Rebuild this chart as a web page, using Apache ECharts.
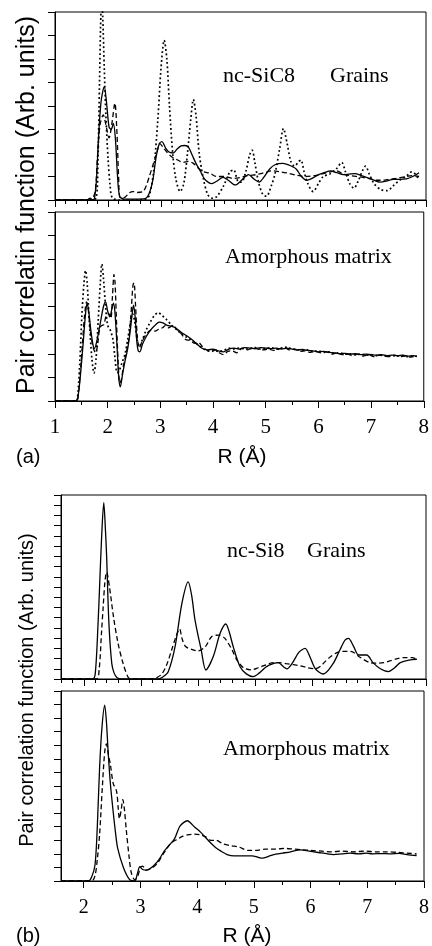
<!DOCTYPE html>
<html>
<head>
<meta charset="utf-8">
<title>Pair correlation functions: nc-SiC8 and nc-Si8</title>
<script src="https://cdn.jsdelivr.net/npm/echarts@6/dist/echarts.min.js"></script>
<style>
  html, body { margin: 0; padding: 0; background: #fff; }
  #chart { width: 432px; height: 946px; }
</style>
</head>
<body>
<div id="chart"></div>
<script>
// Integer tick labels and tick positions of the R axes (Å)
const rLabelsA = [1, 2, 3, 4, 5, 6, 7, 8];
const rLabelsB = [2, 3, 4, 5, 6, 7, 8];
const rHalfTicksB = [2.5, 3.5, 4.5, 5.5, 6.5, 7.5];

// (a) nc-SiC8, grains: [R, g(R)]
const aGrainSolid = [[1.0,0],[1.5,0],[1.62,0.01],[1.66,0.04],[1.7,0.01],[1.74,0.02],[1.78,0.4],[1.82,1.3],[1.87,2.1],[1.93,2.41],[1.97,2.1],[2.02,1.55],[2.06,1.5],[2.1,1.63],[2.14,1.3],[2.18,0.5],[2.22,0.08],[2.3,0.02],[2.5,0.02],[2.7,0.03],[2.78,0.15],[2.85,0.45],[2.91,0.93],[2.97,1.2],[3.02,1.24],[3.08,1.12],[3.15,1.02],[3.23,1.0],[3.3,1.08],[3.38,1.15],[3.45,1.16],[3.52,1.12],[3.59,0.95],[3.66,0.78],[3.74,0.62],[3.82,0.45],[3.9,0.37],[3.96,0.35],[4.05,0.4],[4.17,0.48],[4.27,0.42],[4.4,0.32],[4.52,0.42],[4.65,0.54],[4.75,0.45],[4.85,0.38],[4.95,0.5],[5.05,0.66],[5.15,0.75],[5.3,0.78],[5.42,0.74],[5.55,0.66],[5.65,0.5],[5.75,0.42],[5.85,0.46],[5.94,0.52],[6.08,0.58],[6.2,0.62],[6.32,0.58],[6.44,0.54],[6.55,0.55],[6.66,0.56],[6.78,0.52],[6.88,0.48],[7.0,0.43],[7.13,0.38],[7.25,0.4],[7.38,0.44],[7.5,0.44],[7.63,0.45],[7.75,0.5],[7.87,0.58]];
const aGrainDashed = [[1.0,0],[1.6,0],[1.7,0.02],[1.76,0.2],[1.8,0.9],[1.85,1.6],[1.91,1.81],[1.96,1.6],[2.02,1.32],[2.07,1.6],[2.13,2.06],[2.17,1.4],[2.2,0.5],[2.23,0.05],[2.3,0.05],[2.4,0.15],[2.47,0.18],[2.55,0.16],[2.66,0.18],[2.72,0.3],[2.78,0.5],[2.85,0.75],[2.92,1.0],[2.98,1.2],[3.04,1.12],[3.11,1.02],[3.2,0.92],[3.3,0.86],[3.42,0.8],[3.52,0.82],[3.61,0.78],[3.7,0.68],[3.8,0.6],[3.92,0.57],[4.05,0.5],[4.2,0.5],[4.35,0.46],[4.5,0.48],[4.65,0.52],[4.8,0.54],[4.95,0.58],[5.1,0.62],[5.25,0.6],[5.4,0.57],[5.55,0.53],[5.72,0.5],[5.9,0.52],[6.06,0.56],[6.2,0.6],[6.31,0.62],[6.44,0.55],[6.56,0.52],[6.7,0.5],[6.81,0.48],[6.95,0.45],[7.06,0.42],[7.2,0.42],[7.3,0.44],[7.45,0.46],[7.62,0.5],[7.75,0.52],[7.87,0.5]];
const aGrainDotted = [[1.0,0],[1.7,0],[1.78,0.05],[1.81,0.8],[1.84,2.5],[1.86,3.7],[1.88,4.3],[1.9,3.9],[1.93,2.8],[1.96,1.8],[2.0,0.9],[2.04,0.3],[2.08,0.05],[2.2,0],[2.5,0],[2.7,0.01],[2.78,0.1],[2.86,0.6],[2.94,1.7],[3.0,2.8],[3.06,3.4],[3.11,3.0],[3.16,2.0],[3.22,1.0],[3.28,0.45],[3.36,0.18],[3.43,0.35],[3.5,1.0],[3.56,1.7],[3.61,2.14],[3.66,1.8],[3.72,1.0],[3.8,0.45],[3.88,0.12],[3.96,0.04],[4.05,0.07],[4.18,0.3],[4.3,0.6],[4.37,0.64],[4.45,0.4],[4.52,0.38],[4.6,0.6],[4.67,0.95],[4.72,1.06],[4.77,0.8],[4.84,0.38],[4.92,0.12],[4.99,0.08],[5.08,0.3],[5.15,0.55],[5.24,1.1],[5.31,1.52],[5.38,1.2],[5.45,0.82],[5.52,0.72],[5.6,0.82],[5.64,0.85],[5.7,0.6],[5.77,0.35],[5.87,0.18],[5.97,0.35],[6.06,0.5],[6.18,0.55],[6.3,0.65],[6.41,0.8],[6.48,0.6],[6.56,0.35],[6.64,0.25],[6.72,0.4],[6.8,0.62],[6.86,0.72],[6.93,0.55],[7.02,0.35],[7.15,0.22],[7.27,0.2],[7.38,0.3],[7.5,0.42],[7.62,0.5],[7.73,0.6],[7.8,0.55],[7.87,0.42]];

// (a) nc-SiC8, amorphous matrix
const aMatrixSolid = [[1.0,0],[1.4,0],[1.43,0.05],[1.47,0.4],[1.5,0.76],[1.54,1.3],[1.58,1.85],[1.61,2.07],[1.64,1.9],[1.68,1.5],[1.72,1.2],[1.75,1.11],[1.8,1.3],[1.86,1.65],[1.92,2.0],[1.96,2.1],[2.0,1.9],[2.04,1.78],[2.08,1.95],[2.11,2.07],[2.14,1.85],[2.18,1.1],[2.21,0.5],[2.24,0.3],[2.28,0.55],[2.33,0.85],[2.38,1.11],[2.43,1.5],[2.47,1.9],[2.49,2.03],[2.52,1.8],[2.55,1.3],[2.58,1.06],[2.61,1.04],[2.66,1.2],[2.73,1.36],[2.8,1.48],[2.88,1.58],[2.98,1.67],[3.06,1.65],[3.13,1.6],[3.22,1.58],[3.3,1.54],[3.4,1.45],[3.5,1.38],[3.61,1.29],[3.7,1.2],[3.8,1.11],[3.9,1.08],[4.0,1.1],[4.1,1.06],[4.2,1.04],[4.3,1.1],[4.4,1.12],[4.5,1.1],[4.6,1.13],[4.7,1.12],[4.8,1.11],[4.9,1.13],[5.0,1.12],[5.1,1.11],[5.2,1.12],[5.3,1.1],[5.4,1.12],[5.5,1.1],[5.6,1.08],[5.7,1.09],[5.8,1.07],[5.9,1.06],[6.0,1.04],[6.1,1.05],[6.2,1.03],[6.3,1.02],[6.4,1.0],[6.5,1.01],[6.6,0.99],[6.7,1.0],[6.8,0.98],[6.9,0.99],[7.0,0.98],[7.1,0.97],[7.2,0.98],[7.3,0.96],[7.4,0.97],[7.5,0.96],[7.6,0.97],[7.7,0.95],[7.8,0.96],[7.87,0.94]];
const aMatrixDashed = [[1.0,0],[1.41,0],[1.44,0.1],[1.48,0.6],[1.52,1.2],[1.56,1.8],[1.6,2.1],[1.63,1.95],[1.67,1.5],[1.72,1.15],[1.77,1.02],[1.81,1.2],[1.85,1.55],[1.89,1.6],[1.93,1.62],[1.97,1.8],[2.02,1.85],[2.06,1.75],[2.09,2.2],[2.12,2.68],[2.14,2.5],[2.17,1.6],[2.2,0.8],[2.23,0.38],[2.26,0.45],[2.3,0.75],[2.35,1.0],[2.4,1.3],[2.44,1.8],[2.48,2.45],[2.5,2.5],[2.53,2.0],[2.56,1.4],[2.6,1.12],[2.65,1.25],[2.7,1.36],[2.76,1.45],[2.82,1.5],[2.9,1.48],[2.97,1.52],[3.04,1.55],[3.1,1.6],[3.16,1.55],[3.24,1.6],[3.32,1.5],[3.4,1.42],[3.48,1.3],[3.56,1.28],[3.65,1.22],[3.72,1.24],[3.8,1.15],[3.88,1.08],[3.96,1.04],[4.05,1.08],[4.12,1.02],[4.2,0.98],[4.28,1.05],[4.36,1.06],[4.45,1.02],[4.55,1.12],[4.65,1.08],[4.75,1.12],[4.85,1.1],[4.95,1.08],[5.05,1.1],[5.15,1.07],[5.25,1.1],[5.35,1.13],[5.45,1.08],[5.55,1.1],[5.65,1.05],[5.75,1.06],[5.85,1.03],[5.95,1.05],[6.05,1.02],[6.15,1.04],[6.25,0.99],[6.35,1.02],[6.45,0.98],[6.55,0.99],[6.65,0.96],[6.75,0.99],[6.85,0.95],[6.95,0.98],[7.05,0.94],[7.15,0.97],[7.25,0.95],[7.35,0.94],[7.45,0.97],[7.55,0.94],[7.65,0.95],[7.75,0.93],[7.87,0.95]];
const aMatrixDotted = [[1.0,0],[1.4,0],[1.43,0.1],[1.47,0.8],[1.51,1.8],[1.55,2.5],[1.58,2.76],[1.61,2.5],[1.65,1.7],[1.7,0.9],[1.74,0.59],[1.78,0.9],[1.82,1.7],[1.86,2.5],[1.89,2.9],[1.92,2.6],[1.96,2.0],[2.0,1.6],[2.05,1.5],[2.1,1.3],[2.14,0.9],[2.18,0.6],[2.22,0.65],[2.27,0.8],[2.33,1.0],[2.38,1.3],[2.43,1.65],[2.47,1.85],[2.51,1.7],[2.56,1.3],[2.6,1.15],[2.66,1.3],[2.73,1.5],[2.8,1.65],[2.88,1.8],[2.96,1.87],[3.04,1.8],[3.12,1.72],[3.2,1.62],[3.3,1.52],[3.4,1.42],[3.5,1.35],[3.6,1.28],[3.7,1.2],[3.8,1.12],[3.9,1.06],[4.0,1.08],[4.1,1.05],[4.2,1.07],[4.3,1.12],[4.4,1.1],[4.5,1.12],[4.6,1.1],[4.7,1.11],[4.8,1.13],[4.9,1.1],[5.0,1.11],[5.1,1.13],[5.2,1.1],[5.3,1.12],[5.4,1.14],[5.5,1.1],[5.6,1.09],[5.7,1.07],[5.8,1.08],[5.9,1.05],[6.0,1.06],[6.1,1.03],[6.2,1.04],[6.3,1.01],[6.4,1.02],[6.5,0.99],[6.6,1.0],[6.7,0.98],[6.8,0.99],[6.9,0.97],[7.0,0.98],[7.1,0.96],[7.2,0.97],[7.3,0.95],[7.4,0.96],[7.5,0.95],[7.6,0.96],[7.7,0.94],[7.87,0.95]];

// (b) nc-Si8, grains
const bGrainSolid = [[1.6,0],[2.15,0],[2.2,0.5],[2.25,5.45],[2.28,9.5],[2.31,13.6],[2.35,17.25],[2.38,14.5],[2.4,12.0],[2.44,5.45],[2.49,1.53],[2.53,0.6],[2.58,0.15],[2.65,0],[3.3,0],[3.37,0.15],[3.48,0.72],[3.6,3.16],[3.72,7.4],[3.83,9.5],[3.89,8.2],[3.95,5.77],[4.06,2.8],[4.14,0.88],[4.27,2.2],[4.39,4.47],[4.49,5.38],[4.55,4.6],[4.62,3.16],[4.74,1.2],[4.85,0.5],[4.97,0.23],[5.08,0.6],[5.2,1.2],[5.32,1.5],[5.41,1.6],[5.5,1.2],[5.56,1.0],[5.65,1.5],[5.77,2.6],[5.88,3.0],[5.97,2.1],[6.06,1.0],[6.2,0.49],[6.37,1.5],[6.49,2.84],[6.58,3.8],[6.64,3.98],[6.73,3.2],[6.82,2.35],[6.96,2.35],[7.07,1.6],[7.2,1.0],[7.34,0.72],[7.45,1.1],[7.55,1.6],[7.7,1.85],[7.84,1.93]];
const bGrainDashed = [[1.6,0],[2.22,0],[2.27,1.0],[2.31,4.5],[2.34,7.1],[2.37,9.5],[2.4,10.45],[2.45,9.0],[2.52,6.1],[2.6,3.5],[2.69,1.5],[2.78,0.15],[2.85,0],[3.2,0],[3.27,0.1],[3.37,0.5],[3.46,1.5],[3.54,2.84],[3.62,4.2],[3.68,4.9],[3.72,4.0],[3.78,3.2],[3.89,2.9],[4.0,2.75],[4.13,3.16],[4.24,4.14],[4.36,4.3],[4.47,4.0],[4.6,2.84],[4.68,1.9],[4.8,1.1],[4.94,0.9],[5.06,1.1],[5.2,1.4],[5.32,1.6],[5.43,1.6],[5.55,1.5],[5.68,1.4],[5.79,1.3],[5.93,1.1],[6.06,1.0],[6.15,1.25],[6.23,1.7],[6.33,2.2],[6.44,2.58],[6.56,2.7],[6.68,2.7],[6.85,2.1],[7.02,1.6],[7.14,1.55],[7.26,1.6],[7.38,1.8],[7.5,2.0],[7.62,2.1],[7.76,2.1],[7.84,1.9]];

// (b) nc-Si8, amorphous matrix
const bMatrixSolid = [[1.6,0],[2.08,0],[2.14,0.3],[2.2,1.2],[2.24,4.0],[2.28,8.3],[2.32,11.2],[2.37,12.96],[2.4,11.8],[2.43,9.6],[2.47,7.2],[2.52,5.1],[2.56,3.6],[2.6,2.4],[2.7,1.0],[2.81,0.1],[2.9,0],[2.95,0.6],[2.99,1.06],[3.04,0.85],[3.1,0.8],[3.18,0.95],[3.25,1.2],[3.33,1.6],[3.42,2.2],[3.5,2.6],[3.6,3.1],[3.69,4.0],[3.76,4.3],[3.83,4.44],[3.89,4.25],[3.95,4.0],[4.06,3.6],[4.15,3.2],[4.24,2.8],[4.33,2.45],[4.42,2.2],[4.53,1.95],[4.65,1.85],[4.8,1.85],[4.97,1.85],[5.07,1.75],[5.15,1.68],[5.25,1.8],[5.35,1.95],[5.5,2.05],[5.65,2.15],[5.82,2.3],[5.98,2.2],[6.14,2.1],[6.3,2.0],[6.4,1.95],[6.55,2.0],[6.7,2.05],[6.85,2.0],[6.98,2.05],[7.1,2.0],[7.25,2.02],[7.4,2.0],[7.56,2.03],[7.7,1.95],[7.87,1.88]];
const bMatrixDashed = [[1.6,0],[2.14,0],[2.2,0.4],[2.24,1.6],[2.28,3.4],[2.33,7.0],[2.37,9.5],[2.4,10.1],[2.44,9.2],[2.47,8.6],[2.52,7.2],[2.58,6.6],[2.61,5.3],[2.63,4.6],[2.66,5.2],[2.69,6.0],[2.72,5.2],[2.75,3.8],[2.8,1.8],[2.84,0.6],[2.9,0.1],[2.95,0.3],[3.0,1.0],[3.04,1.1],[3.1,0.8],[3.2,0.95],[3.3,1.3],[3.42,2.1],[3.54,2.8],[3.66,3.1],[3.75,3.3],[3.83,3.4],[3.95,3.45],[4.06,3.4],[4.15,3.25],[4.24,3.0],[4.33,3.0],[4.45,2.75],[4.6,2.6],[4.74,2.5],[4.9,2.25],[5.03,2.25],[5.2,2.35],[5.38,2.35],[5.55,2.4],[5.7,2.35],[5.85,2.3],[6.0,2.25],[6.2,2.2],[6.37,2.15],[6.55,2.2],[6.75,2.15],[6.96,2.2],[7.15,2.15],[7.35,2.15],[7.56,2.1],[7.7,2.05],[7.87,2.0]];

const SANS = '"Liberation Sans", Arial, sans-serif';
const SERIF = '"Liberation Serif", "Times New Roman", serif';

// panel frames in pixels: [left, top, width, height]
const frames = [
  [55, 12, 371, 188],
  [55, 212, 371, 189],
  [61, 495, 365, 184],
  [61, 691, 365, 190]
];

const grids = frames.map(f => ({
  left: f[0], top: f[1], width: f[2], height: f[3],
  show: true, borderColor: '#000', borderWidth: 1, backgroundColor: 'transparent'
}));

function minorAxis(gi, min, interval, custom) {
  const ax = {
    type: 'value', gridIndex: gi, position: 'bottom', min: min, max: 8,
    axisLine: { show: true, onZero: false, lineStyle: { color: '#000', width: 1 } },
    axisTick: { show: true, inside: false, length: 4, lineStyle: { color: '#000', width: 1 } },
    axisLabel: { show: false }, splitLine: { show: false }
  };
  if (custom) ax.axisTick.customValues = custom; else ax.interval = interval;
  return ax;
}
function majorAxis(gi, min, labels, showLabels, fontSize, margin) {
  return {
    type: 'value', gridIndex: gi, position: 'bottom', min: min, max: 8,
    axisLine: { show: false },
    axisTick: { show: true, inside: false, length: 7, customValues: labels, lineStyle: { color: '#000', width: 1 } },
    axisLabel: { show: showLabels, customValues: labels, color: '#000', fontFamily: SERIF, fontSize: fontSize, margin: margin },
    splitLine: { show: false }
  };
}
function yAxis(gi, max, interval) {
  return {
    type: 'value', gridIndex: gi, min: 0, max: max, interval: interval,
    axisLine: { show: true, onZero: false, lineStyle: { color: '#000', width: 1 } },
    axisTick: { show: true, inside: false, length: 7, lineStyle: { color: '#000', width: 1 } },
    axisLabel: { show: false }, splitLine: { show: false }
  };
}

const xAxes = [
  minorAxis(0, 1, 0.2), majorAxis(0, 1, rLabelsA, false, 21, 16),
  minorAxis(1, 1, 0.5), majorAxis(1, 1, rLabelsA, true, 21, 16),
  minorAxis(2, 1.6, 0.2), majorAxis(2, 1.6, rLabelsB, false, 20, 17),
  minorAxis(3, 1.6, null, rHalfTicksB), majorAxis(3, 1.6, rLabelsB, true, 20, 17)
];
const yAxes = [yAxis(0, 4, 0.5), yAxis(1, 4, 0.5), yAxis(2, 18, 1), yAxis(3, 14, 1)];

const styles = {
  solid:  { color: '#000', width: 1.3, type: 'solid' },
  dashed: { color: '#000', width: 1.3, type: [5, 3] },
  dotted: { color: '#000', width: 1.7, type: [1.8, 2.6] }
};
function curve(gi, data, kind) {
  return {
    type: 'line', xAxisIndex: gi * 2, yAxisIndex: gi, data: data,
    showSymbol: false, symbol: 'none', smooth: 0.3, clip: true,
    lineStyle: styles[kind], silent: true, animation: false
  };
}

const series = [
  curve(0, aGrainDotted, 'dotted'), curve(0, aGrainDashed, 'dashed'), curve(0, aGrainSolid, 'solid'),
  curve(1, aMatrixDotted, 'dotted'), curve(1, aMatrixDashed, 'dashed'), curve(1, aMatrixSolid, 'solid'),
  curve(2, bGrainDashed, 'dashed'), curve(2, bGrainSolid, 'solid'),
  curve(3, bMatrixDashed, 'dashed'), curve(3, bMatrixSolid, 'solid')
];

function txt(x, y, s, font, align, base, rot) {
  return {
    type: 'text', x: x, y: y, rotation: rot || 0, silent: true,
    style: { text: s, font: font, fill: '#000', textAlign: align || 'left', textVerticalAlign: base || 'bottom' }
  };
}

const graphic = [
  txt(223, 87, 'nc-SiC8', '22px ' + SERIF, 'left', 'bottom'),
  txt(330, 87, 'Grains', '22px ' + SERIF, 'left', 'bottom'),
  txt(225, 268, 'Amorphous matrix', '22px ' + SERIF, 'left', 'bottom'),
  txt(227, 562, 'nc-Si8', '22px ' + SERIF, 'left', 'bottom'),
  txt(307, 562, 'Grains', '22px ' + SERIF, 'left', 'bottom'),
  txt(223, 760, 'Amorphous matrix', '22px ' + SERIF, 'left', 'bottom'),
  txt(27, 205, 'Pair correlatin function (Arb. units)', '25px ' + SANS, 'center', 'middle', Math.PI / 2),
  txt(27, 690, 'Pair correlation function (Arb. units)', '20px ' + SANS, 'center', 'middle', Math.PI / 2),
  txt(242, 457, 'R (Å)', '21px ' + SANS, 'center', 'middle'),
  txt(16, 457, '(a)', '20px ' + SANS, 'left', 'middle'),
  txt(247, 936, 'R (Å)', '21px ' + SANS, 'center', 'middle'),
  txt(16, 936, '(b)', '20px ' + SANS, 'left', 'middle')
];

const chart = echarts.init(document.getElementById('chart'), null, { renderer: 'canvas' });
chart.setOption({
  backgroundColor: '#fff',
  animation: false,
  grid: grids,
  xAxis: xAxes,
  yAxis: yAxes,
  series: series,
  graphic: graphic
});
</script>
</body>
</html>
